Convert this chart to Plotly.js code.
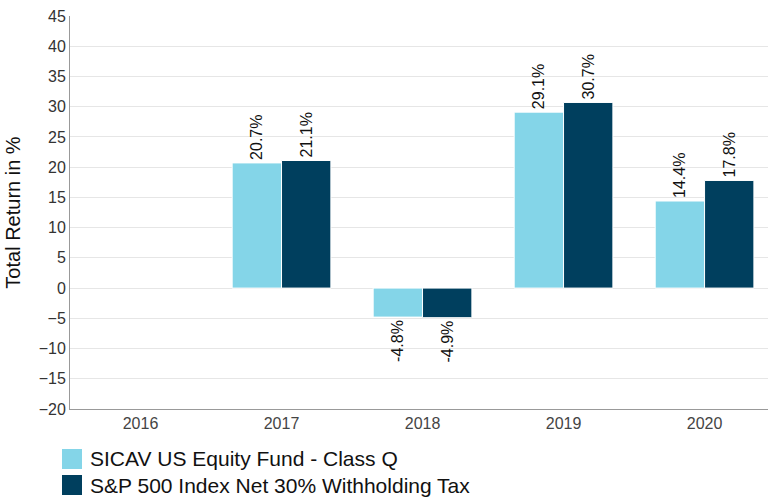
<!DOCTYPE html>
<html><head><meta charset="utf-8">
<script src="https://cdn.plot.ly/plotly-3.0.1.min.js"></script>
<style>html,body{margin:0;padding:0;background:#fff;}#chart{width:768px;height:497px;}</style>
</head><body><div id="chart"></div>
<script>
const years = ['2016', '2017', '2018', '2019', '2020'];
const seriesNames = ['SICAV US Equity Fund - Class Q', 'S&P 500 Index Net 30% Withholding Tax'];
const fundValues = [null, 20.7, -4.8, 29.1, 14.4];
const indexValues = [null, 21.1, -4.9, 30.7, 17.8];
const yTicks = [-20, -15, -10, -5, 0, 5, 10, 15, 20, 25, 30, 35, 40, 45];
const colors = ['#84d5e8', '#003f5e'];

const fontFam = 'Liberation Sans, Arial, sans-serif';
function series(name, vals, color) {
  return {
    type: 'bar', name: name, x: years, y: vals,
    marker: {color: color, line: {color: '#ffffff', width: 1}},
    text: vals.map(v => v === null ? '' : v.toFixed(1) + '%'),
    texttemplate: '%{text}',
    textposition: 'outside', textangle: -90,
    textfont: {family: fontFam, size: 16, color: '#111'},
    cliponaxis: false, hoverinfo: 'skip', showlegend: false
  };
}
const data = [
  series(seriesNames[0], fundValues, colors[0]),
  series(seriesNames[1], indexValues, colors[1])
];

// custom legend with large square swatches (container pixel positions converted to paper)
const W = 768, H = 497, mL = 70, mR = 0, mT = 16, mB = 88;
const pw = W - mL - mR, ph = H - mT - mB;
const px = x => (x - mL) / pw;
const py = y => (H - mB - y) / ph;
const shapes = [], annotations = [];
seriesNames.forEach((n, i) => {
  const cy = 459 + i * 26;
  shapes.push({type: 'rect', xref: 'paper', yref: 'paper',
    x0: px(62), x1: px(82), y0: py(cy + 10), y1: py(cy - 10),
    fillcolor: colors[i], line: {width: 0}});
  annotations.push({xref: 'paper', yref: 'paper', x: px(88), y: py(cy),
    xanchor: 'left', yanchor: 'middle', text: n, showarrow: false,
    font: {family: fontFam, size: 21, color: '#111'}});
});

const layout = {
  width: W, height: H,
  margin: {l: mL, r: mR, t: mT, b: mB, autoexpand: false},
  paper_bgcolor: '#fff', plot_bgcolor: '#fff',
  font: {family: fontFam, color: '#333'},
  barmode: 'group', bargap: 0.3, bargroupgap: 0,
  showlegend: false,
  shapes: shapes, annotations: annotations,
  xaxis: {type: 'category', range: [-0.5, 4.45], showline: true, linecolor: '#999', linewidth: 1,
          showgrid: false, ticks: '', tickfont: {size: 16, color: '#444'}, fixedrange: true},
  yaxis: {range: [-20, 45], tickvals: yTicks, showline: true, linecolor: '#999', linewidth: 1,
          showgrid: true, gridcolor: '#e6e6e6', zeroline: false, ticks: '',
          tickfont: {size: 16, color: '#333'},
          title: {text: 'Total Return in %', font: {size: 20, color: '#111'}, standoff: 12}}
};
Plotly.newPlot('chart', data, layout, {displayModeBar: false, staticPlot: true});
</script></body></html>
